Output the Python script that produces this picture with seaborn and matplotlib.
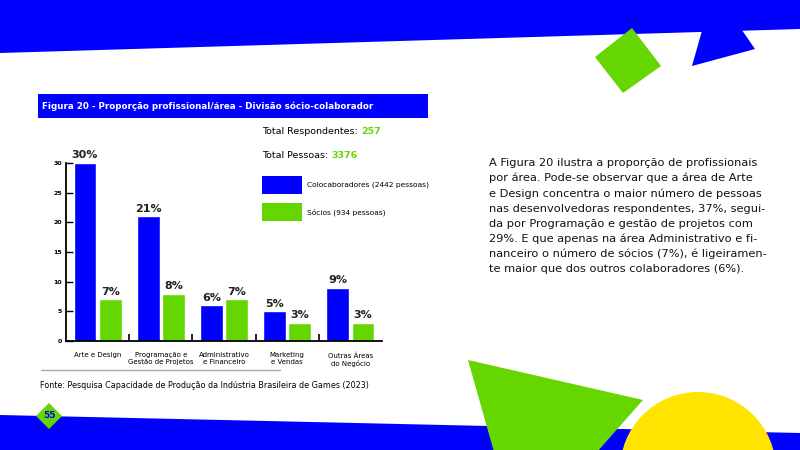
import numpy as np
import pandas as pd
import matplotlib.pyplot as plt
import seaborn as sns
from matplotlib.patches import Polygon, Rectangle, Circle

BLUE = '#0000FF'
GREEN = '#66D600'
YELLOW = '#FFE400'

areas = ['Arte e Design',
         'Programação e\nGestão de Projetos',
         'Administrativo\ne Financeiro',
         'Marketing\ne Vendas',
         'Outras Áreas\ndo Negócio']
colaboradores = [30, 21, 6, 5, 9]
socios = [7, 8, 7, 3, 3]
series_names = ['Colocaboradores (2442 pessoas)', 'Sócios (934 pessoas)']
y_ticks = [0, 5, 10, 15, 20, 25, 30]

title = 'Figura 20 - Proporção profissional/área - Divisão sócio-colaborador'
source = 'Fonte: Pesquisa Capacidade de Produção da Indústria Brasileira de Games (2023)'
totals = [('Total Respondentes: ', '257'), ('Total Pessoas: ', '3376')]
paragraph = ['A Figura 20 ilustra a proporção de profissionais',
             'por área. Pode-se observar que a área de Arte',
             'e Design concentra o maior número de pessoas',
             'nas desenvolvedoras respondentes, 37%, segui-',
             'da por Programação e gestão de projetos com',
             '29%. E que apenas na área Administrativo e fi-',
             'nanceiro o número de sócios (7%), é ligeiramen-',
             'te maior que dos outros colaboradores (6%).']

df = pd.DataFrame({
    'area': areas * 2,
    'pct': colaboradores + socios,
    'grupo': [series_names[0]] * len(areas) + [series_names[1]] * len(areas),
})

sns.set_style('white')
plt.rcParams['font.family'] = ['DejaVu Sans']
plt.rcParams['text.color'] = 'black'
plt.rcParams['xtick.color'] = 'black'
plt.rcParams['ytick.color'] = 'black'

fig = plt.figure(figsize=(8, 4.5), dpi=100)

# background layer in pixel coords
bg = fig.add_axes([0, 0, 1, 1], zorder=0)
bg.set_xlim(0, 800)
bg.set_ylim(450, 0)
bg.axis('off')

bg.add_patch(Polygon([(0, 0), (800, 0), (800, 29), (0, 53)], color=BLUE, lw=0))
bg.add_patch(Polygon([(705, 20), (735, 20), (755, 49), (692, 66)], color=BLUE, lw=0))
bg.add_patch(Polygon([(632, 28), (661, 66), (623, 93), (595, 57)], color=GREEN, lw=0))
bg.add_patch(Polygon([(0, 415), (800, 433), (800, 450), (0, 450)], color=BLUE, lw=0))
bg.add_patch(Polygon([(468, 360), (643, 400), (597, 452), (494, 452)], color=GREEN, lw=0))
bg.add_patch(Circle((698, 470), 78, color=YELLOW, lw=0))
bg.add_patch(Polygon([(49, 403), (62, 416), (49, 429), (36, 416)], color=GREEN, lw=0))
bg.text(49, 416, '55', color=BLUE, fontsize=6.5, fontweight='bold',
        ha='center', va='center')

# title bar
bg.add_patch(Rectangle((38, 94), 390, 24, color=BLUE, lw=0))
bg.text(42, 106, title, color='white', fontsize=6.3, fontweight='bold', va='center')

# totals and legend
for i, (label, value) in enumerate(totals):
    t = bg.text(262, 132 + i * 23, label, fontsize=6.8, va='center')
    bg.annotate(value, xy=(1, 0.5), xycoords=t, va='center', ha='left',
                fontsize=6.8, color=GREEN, fontweight='bold')
for i, (name, col) in enumerate(zip(series_names, [BLUE, GREEN])):
    y0 = 176 + i * 27
    bg.add_patch(Rectangle((262, y0), 40, 18, color=col, lw=0))
    bg.text(307, y0 + 9, name, fontsize=5.4, va='center')

# source
bg.plot([41, 280], [370, 370], color='#aaaaaa', lw=1)
bg.text(40, 385, source, fontsize=5.8, va='center')

# paragraph
for i, line in enumerate(paragraph):
    bg.text(489, 163 + i * 15.2, line, fontsize=8.2, va='center', color='#111111')

# chart
ax = fig.add_axes([66 / 800, 1 - 341 / 450, (382 - 66) / 800, (341 - 163) / 450], zorder=2)
ax.patch.set_alpha(0)
sns.barplot(data=df, x='area', y='pct', hue='grupo', palette=[BLUE, GREEN],
            saturation=1, width=0.8, gap=0.1, legend=False, ax=ax)
for cont in ax.containers:
    ax.bar_label(cont, fmt='%d%%', padding=2, fontsize=8, fontweight='bold',
                 color='#222222')

ax.set_xlim(-0.5, 4.5)
ax.set_ylim(0, 30)
ax.set_yticks(y_ticks)
ax.set_yticklabels([str(t) for t in y_ticks], fontsize=4.5, fontweight='bold')
ax.set_xticks(range(len(areas)))
ax.set_xticklabels(areas, fontsize=5)
ax.set_xticks([0.5, 1.5, 2.5, 3.5], minor=True)
ax.tick_params(axis='x', which='major', length=0, pad=8)
ax.tick_params(axis='x', which='minor', direction='in', length=5, width=1.2, bottom=True)
ax.tick_params(axis='y', direction='in', length=5, width=1, left=True, pad=3)
ax.set_xlabel('')
ax.set_ylabel('')
sns.despine(ax=ax)
for s in ['left', 'bottom']:
    ax.spines[s].set_color('black')
    ax.spines[s].set_linewidth(1.3)

fig.savefig('out.png', dpi=100)
